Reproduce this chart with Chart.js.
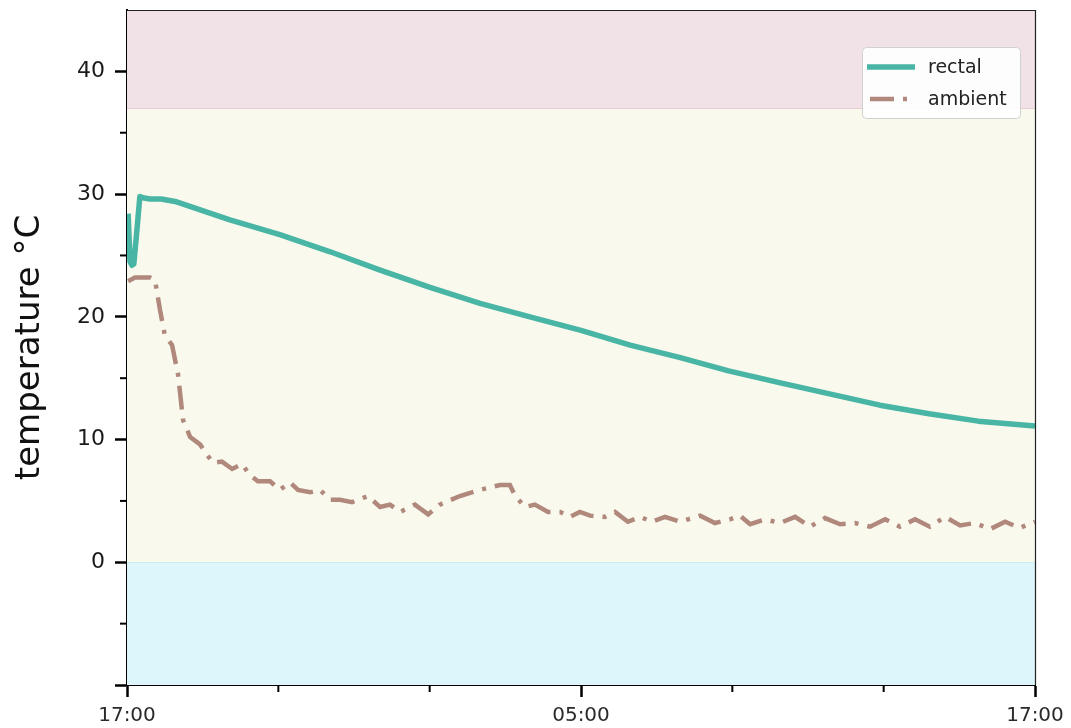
<!DOCTYPE html>
<html>
<head>
<meta charset="utf-8">
<script src="https://cdn.jsdelivr.net/npm/chart.js@4.4.1/dist/chart.umd.min.js"></script>
<style>
html,body{margin:0;padding:0;background:#fff;}
#wrap{width:1071px;height:728px;position:relative;}
</style>
</head>
<body>
<div id="wrap"><canvas id="c" width="1071" height="728"></canvas></div>
<script>
// hours since 17:00
const rectalHours = [0.03,0.08,0.13,0.18,0.26,0.34,0.42,0.61,0.9,1.27,2.72,4.04,5.37,6.69,8.01,9.33,10.65,12.0,13.3,14.6,15.9,17.3,18.6,19.9,21.2,22.5,24.0];
const rectalTemp  = [28.4,24.5,24.2,24.3,27.0,29.8,29.7,29.6,29.6,29.4,27.9,26.7,25.3,23.8,22.4,21.1,20.0,18.9,17.7,16.7,15.6,14.6,13.7,12.8,12.1,11.5,11.1];

const ambientHours = [0.03,0.21,0.61,0.74,0.87,1.00,1.19,1.35,1.48,1.67,1.93,2.11,2.27,2.51,2.78,3.04,3.25,3.46,3.78,4.04,4.31,4.52,4.84,5.10,5.37,5.63,5.95,6.37,6.69,6.95,7.22,7.61,7.96,8.27,8.80,9.33,9.86,10.12,10.26,10.52,10.78,11.13,11.45,11.71,11.97,12.24,12.63,12.90,13.24,13.56,13.88,14.22,14.62,15.15,15.54,15.94,16.20,16.47,16.86,17.26,17.66,18.05,18.45,18.85,19.24,19.64,20.04,20.43,20.83,21.22,21.62,22.02,22.41,22.81,23.21,23.60,24.00];
const ambientTemp  = [22.9,23.2,23.2,23.0,20.6,18.5,17.7,15.3,11.6,10.2,9.6,8.8,8.1,8.2,7.6,8.0,7.1,6.6,6.6,5.9,6.5,5.9,5.7,5.9,5.1,5.1,4.9,5.4,4.5,4.7,4.1,4.7,3.9,4.7,5.4,5.9,6.3,6.3,5.4,4.5,4.7,4.1,4.1,3.7,4.1,3.8,3.7,4.1,3.3,3.7,3.3,3.7,3.3,3.8,3.2,3.5,3.8,3.1,3.5,3.2,3.7,2.9,3.6,3.1,3.2,2.9,3.5,2.9,3.5,2.9,3.7,3.0,3.2,2.7,3.3,2.8,3.3];

const seriesLabels = ['rectal','ambient'];
const xTickHours = [0,12,24];
const xTickText  = ['17:00','05:00','17:00'];
const yMajorTicks = [-10,0,10,20,30,40];
const yLabelTicks = [0,10,20,30,40];
const bands = [
  {from:37, to:45, color:'rgb(240,226,231)'},
  {from:0, to:37, color:'rgb(250,249,238)'},
  {from:-10, to:0, color:'rgb(220,246,251)'}
];

const toXY = (xs, ys) => xs.map((x,i)=>({x:x, y:ys[i]}));

const bandsPlugin = {
  id:'bands',
  beforeDatasetsDraw(chart){
    const {ctx, chartArea:a, scales:{y}} = chart;
    ctx.save();
    bands.forEach(b=>{
      const t = y.getPixelForValue(b.to), btm = y.getPixelForValue(b.from);
      ctx.fillStyle = b.color;
      ctx.fillRect(a.left, t, a.right-a.left, btm-t);
    });
    ctx.lineWidth = 1;
    ctx.strokeStyle = 'rgba(232,205,212,1)';
    let p = Math.round(y.getPixelForValue(37))+0.5;
    ctx.beginPath(); ctx.moveTo(a.left,p); ctx.lineTo(a.right,p); ctx.stroke();
    ctx.strokeStyle = 'rgba(200,238,242,1)';
    p = Math.round(y.getPixelForValue(0))+0.5;
    ctx.beginPath(); ctx.moveTo(a.left,p); ctx.lineTo(a.right,p); ctx.stroke();
    ctx.restore();
  },
  afterDraw(chart){
    const {ctx, chartArea:a, scales:{x,y}} = chart;
    ctx.save();
    // top & right frame
    ctx.strokeStyle = '#222'; ctx.lineWidth = 1.2;
    ctx.beginPath();
    ctx.moveTo(a.left, a.top+0.5); ctx.lineTo(a.right+0.5, a.top+0.5); ctx.lineTo(a.right+0.5, a.bottom);
    ctx.stroke();
    // minor ticks
    ctx.strokeStyle = '#000'; ctx.lineWidth = 2;
    for (let v=-5; v<45; v+=10){
      const py = y.getPixelForValue(v);
      ctx.beginPath(); ctx.moveTo(a.left, py); ctx.lineTo(a.left-7, py); ctx.stroke();
    }
    for (let h=4; h<24; h+=4){
      if (h%12===0) continue;
      const px = x.getPixelForValue(h);
      ctx.beginPath(); ctx.moveTo(px, a.bottom); ctx.lineTo(px, a.bottom+7); ctx.stroke();
    }
    // legend
    const lx=862, ly=47, lw=158, lh=71;
    ctx.fillStyle='rgba(255,255,255,0.92)';
    ctx.strokeStyle='#d0d0d0'; ctx.lineWidth=1;
    ctx.beginPath();
    if (ctx.roundRect) ctx.roundRect(lx+0.5,ly+0.5,lw,lh,4); else ctx.rect(lx+0.5,ly+0.5,lw,lh);
    ctx.fill(); ctx.stroke();
    const ds = chart.data.datasets;
    const rows = [67, 99];
    ds.forEach((d,i)=>{
      const ry = rows[i];
      ctx.strokeStyle = d.borderColor;
      ctx.lineWidth = d.borderWidth;
      ctx.setLineDash(d.borderDash || []);
      ctx.beginPath(); ctx.moveTo(i===0?867:870, ry); ctx.lineTo(i===0?915:913, ry); ctx.stroke();
      ctx.setLineDash([]);
      ctx.fillStyle='#222';
      ctx.font='19px "DejaVu Sans"';
      ctx.textBaseline='middle';
      ctx.fillText(d.label, 928, ry+1);
    });
    ctx.restore();
  }
};

new Chart(document.getElementById('c'), {
  type:'line',
  data:{
    datasets:[
      {label:seriesLabels[0], data:toXY(rectalHours, rectalTemp), borderColor:'rgb(72,181,165)', borderWidth:5.5, pointRadius:0, tension:0, fill:false, borderJoinStyle:'round'},
      {label:seriesLabels[1], data:toXY(ambientHours, ambientTemp), borderColor:'rgb(176,136,124)', borderWidth:4.5, borderDash:[24,9,4,9], borderCapStyle:'butt', pointRadius:0, tension:0, fill:false}
    ]
  },
  plugins:[bandsPlugin],
  options:{
    responsive:false,
    animation:false,
    layout:{padding:{top:10, right:36, left:0, bottom:0}},
    plugins:{legend:{display:false}, tooltip:{enabled:false}},
    scales:{
      x:{
        type:'linear', min:0, max:24,
        afterFit(s){ s.height = 43; s.paddingLeft = 0; s.paddingRight = 0; },
        border:{color:'#000', width:2},
        grid:{drawOnChartArea:false, drawTicks:true, tickLength:12, tickWidth:2.5, tickColor:(c)=> xTickHours.includes(c.tick.value)?'#000':'rgba(0,0,0,0)'},
        ticks:{stepSize:4, autoSkip:false, maxRotation:0, padding:7, color:'#2a2a2a', font:{family:'DejaVu Sans', size:20},
          callback:(v)=>{ const i = xTickHours.indexOf(v); return i>=0 ? xTickText[i] : ''; }}
      },
      y:{
        min:-10, max:45,
        afterFit(s){ s.width = 127; s.paddingTop = 0; s.paddingBottom = 0; },
        border:{color:'#000', width:2},
        grid:{drawOnChartArea:false, drawTicks:true, tickLength:12, tickWidth:2.5, tickColor:(c)=> yMajorTicks.includes(c.tick.value)?'#000':'rgba(0,0,0,0)'},
        ticks:{stepSize:5, autoSkip:false, padding:10, color:'#1a1a1a', font:{family:'DejaVu Sans', size:22},
          callback:(v)=> yLabelTicks.includes(v) ? String(v) : ''},
        title:{display:true, text:'temperature °C', color:'#111', font:{family:'DejaVu Sans', size:34}, padding:{top:10, bottom:0}}
      }
    }
  }
});
</script>
</body>
</html>
